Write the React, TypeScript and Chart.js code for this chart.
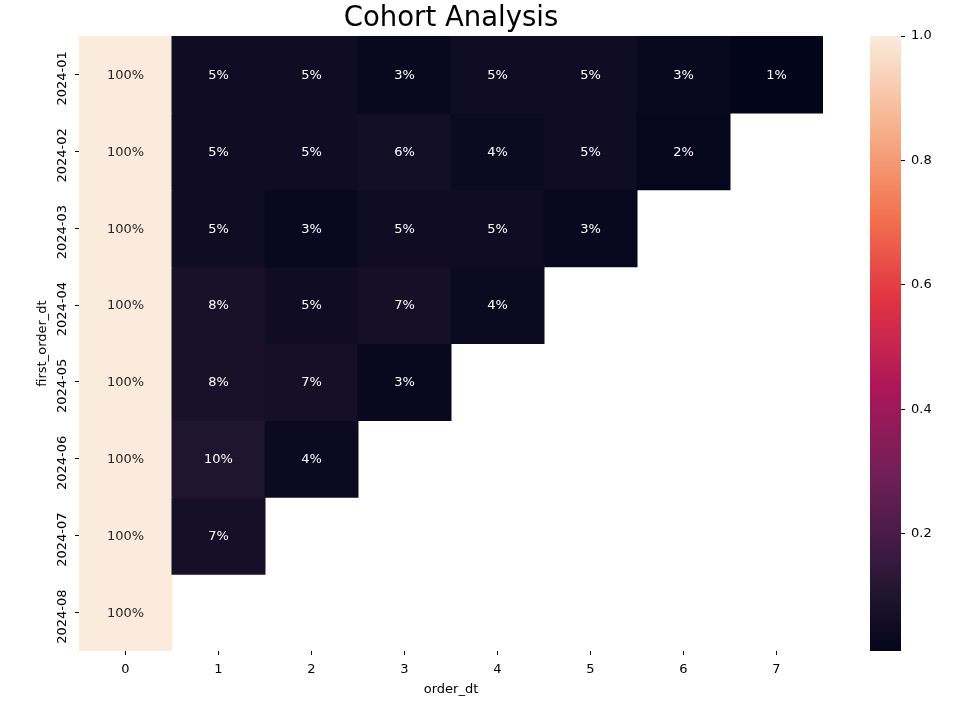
import React, { useEffect, useRef } from "react";
import { Chart, registerables } from "chart.js";

Chart.register(...registerables);

const FONT = "'DejaVu Sans', sans-serif";

// ---- data ----
const cohorts = ["2024-01", "2024-02", "2024-03", "2024-04", "2024-05", "2024-06", "2024-07", "2024-08"];
const periods = ["0", "1", "2", "3", "4", "5", "6", "7"];
const cohort202401 = [1.0, 0.05, 0.05, 0.03, 0.05, 0.05, 0.03, 0.012];
const cohort202402 = [1.0, 0.05, 0.05, 0.06, 0.04, 0.05, 0.02];
const cohort202403 = [1.0, 0.05, 0.03, 0.05, 0.05, 0.03];
const cohort202404 = [1.0, 0.08, 0.05, 0.07, 0.04];
const cohort202405 = [1.0, 0.08, 0.07, 0.03];
const cohort202406 = [1.0, 0.10, 0.04];
const cohort202407 = [1.0, 0.07];
const cohort202408 = [1.0];
const retention = [
  cohort202401, cohort202402, cohort202403, cohort202404,
  cohort202405, cohort202406, cohort202407, cohort202408,
];
const colorbarTicks = [0.2, 0.4, 0.6, 0.8, 1.0];

// ---- colour map (approximation of seaborn "rocket") ----
const rocketStops: [number, number[]][] = [
  [0, [3, 5, 26]],
  [0.09, [31, 21, 46]],
  [1 / 7, [53, 25, 62]],
  [2 / 7, [112, 31, 87]],
  [3 / 7, [173, 23, 89]],
  [4 / 7, [225, 51, 66]],
  [5 / 7, [243, 118, 81]],
  [6 / 7, [246, 180, 143]],
  [1, [250, 235, 221]],
];
function rocketRGB(t: number): number[] {
  const tt = Math.max(0, Math.min(1, t));
  for (let i = 1; i < rocketStops.length; i++) {
    const [p1, c1] = rocketStops[i];
    const [p0, c0] = rocketStops[i - 1];
    if (tt <= p1) {
      const f = (tt - p0) / (p1 - p0);
      return c0.map((c, k) => Math.round(c + (c1[k] - c) * f));
    }
  }
  return rocketStops[rocketStops.length - 1][1];
}
const allValues = retention.flat();
const vmin = Math.min(...allValues);
const vmax = Math.max(...allValues);
const norm = (v: number) => (v - vmin) / (vmax - vmin);
const rgbStr = (c: number[]) => `rgb(${c[0]},${c[1]},${c[2]})`;
function lum(c: number[]) {
  const f = (x: number) => {
    const s = x / 255;
    return s <= 0.03928 ? s / 12.92 : Math.pow((s + 0.055) / 1.055, 2.4);
  };
  return 0.2126 * f(c[0]) + 0.7152 * f(c[1]) + 0.0722 * f(c[2]);
}

const annotatePlugin = {
  id: "annotateCells",
  afterDatasetsDraw(chart: any) {
    const ctx = chart.ctx;
    ctx.save();
    ctx.font = `13px ${FONT}`;
    ctx.textAlign = "center";
    ctx.textBaseline = "middle";
    chart.data.datasets.forEach((ds: any, di: number) => {
      const meta = chart.getDatasetMeta(di);
      meta.data.forEach((el: any, i: number) => {
        const v = ds.values[i];
        const c = rocketRGB(norm(v));
        ctx.fillStyle = lum(c) > 0.408 ? "#262626" : "#ffffff";
        const { x, y, base } = el.getProps(["x", "y", "base"], true);
        ctx.fillText(`${Math.round(v * 100)}%`, x, (y + base) / 2 + 1);
      });
    });
    ctx.restore();
  },
};

export default function App() {
  const mainRef = useRef<HTMLCanvasElement>(null);
  const cbRef = useRef<HTMLCanvasElement>(null);

  useEffect(() => {
    document.body.style.margin = "0";
    Chart.defaults.font.family = FONT;
    Chart.defaults.color = "#000";

    const main = new Chart(mainRef.current!, {
      type: "bar",
      data: {
        labels: periods,
        datasets: retention.map((row, r) => ({
          label: cohorts[r],
          data: row.map(() => [r, r + 1]),
          values: row,
          backgroundColor: row.map((v) => rgbStr(rocketRGB(norm(v)))),
          borderWidth: 0,
          barPercentage: 1,
          categoryPercentage: 1,
          inflateAmount: 0.5,
        })) as any,
      },
      options: {
        responsive: false,
        animation: false,
        layout: { padding: { left: 0, right: 136, top: 0, bottom: 0 } },
        plugins: {
          legend: { display: false },
          tooltip: { enabled: false },
          title: {
            display: true,
            text: "Cohort Analysis",
            color: "#000",
            font: { size: 27.5, weight: "normal", family: FONT, lineHeight: 1 },
            padding: { top: 5, bottom: 3.5 },
            fullSize: false,
          },
        },
        scales: {
          x: {
            stacked: true,
            grid: { display: true, drawOnChartArea: false, offset: false, tickLength: 4, color: "#000", lineWidth: 1 },
            border: { display: false },
            ticks: { color: "#000", font: { size: 13, family: FONT }, padding: 7, maxRotation: 0 },
            title: {
              display: true,
              text: "order_dt",
              color: "#000",
              font: { size: 13, family: FONT },
              padding: { top: 0, bottom: 7 },
            },
            afterFit: (s: any) => { s.height = 53; },
          },
          y: {
            type: "linear",
            min: 0,
            max: cohorts.length,
            reverse: true,
            stacked: false,
            afterBuildTicks: (s: any) => {
              s.ticks = cohorts.map((_, i) => ({ value: i + 0.5 }));
            },
            ticks: {
              callback: (v: any) => cohorts[Math.floor(Number(v))],
              minRotation: 90,
              maxRotation: 90,
              crossAlign: "center",
              padding: -15,
              labelOffset: 4,
              color: "#000",
              font: { size: 13, family: FONT },
            },
            grid: { display: true, drawOnChartArea: false, tickLength: 4, color: "#000", lineWidth: 1 },
            border: { display: false },
            title: {
              display: true,
              text: "first_order_dt",
              color: "#000",
              font: { size: 13, family: FONT },
              padding: { top: 35, bottom: 0 },
            },
            afterFit: (s: any) => { s.width = 79; },
          },
        },
      } as any,
      plugins: [annotatePlugin],
    });

    const cb = new Chart(cbRef.current!, {
      type: "bar",
      data: {
        labels: ["colorbar"],
        datasets: [
          {
            data: [[vmin, vmax]],
            borderWidth: 0,
            barPercentage: 1,
            categoryPercentage: 1,
            backgroundColor: (ctx: any) => {
              const chart = ctx.chart;
              const area = chart.chartArea;
              if (!area) return "#000";
              const ys = chart.scales.y;
              const g = chart.ctx.createLinearGradient(0, ys.getPixelForValue(vmin), 0, ys.getPixelForValue(vmax));
              rocketStops.forEach(([p, c]) => g.addColorStop(p, rgbStr(c)));
              return g;
            },
          },
        ] as any,
      },
      options: {
        responsive: false,
        animation: false,
        layout: { padding: { left: 30, right: 0, top: 36, bottom: 53 } },
        plugins: { legend: { display: false }, tooltip: { enabled: false } },
        scales: {
          x: { display: false },
          y: {
            position: "right",
            min: vmin,
            max: vmax,
            afterBuildTicks: (s: any) => {
              s.ticks = colorbarTicks.map((v) => ({ value: v }));
            },
            ticks: {
              callback: (v: any) => Number(v).toFixed(1),
              padding: 6,
              color: "#000",
              font: { size: 13, family: FONT },
            },
            grid: { display: true, drawOnChartArea: false, tickLength: 4, color: "#000", lineWidth: 1 },
            border: { display: false },
            afterFit: (s: any) => { s.width = 58; },
          },
        },
      } as any,
    });

    return () => {
      main.destroy();
      cb.destroy();
    };
  }, []);

  return (
    <div style={{ position: "relative", width: 959, height: 704, background: "#fff" }}>
      <canvas ref={mainRef} width={959} height={704} style={{ position: "absolute", left: 0, top: 0 }} />
      <canvas ref={cbRef} width={119} height={704} style={{ position: "absolute", left: 840, top: 0 }} />
    </div>
  );
}
